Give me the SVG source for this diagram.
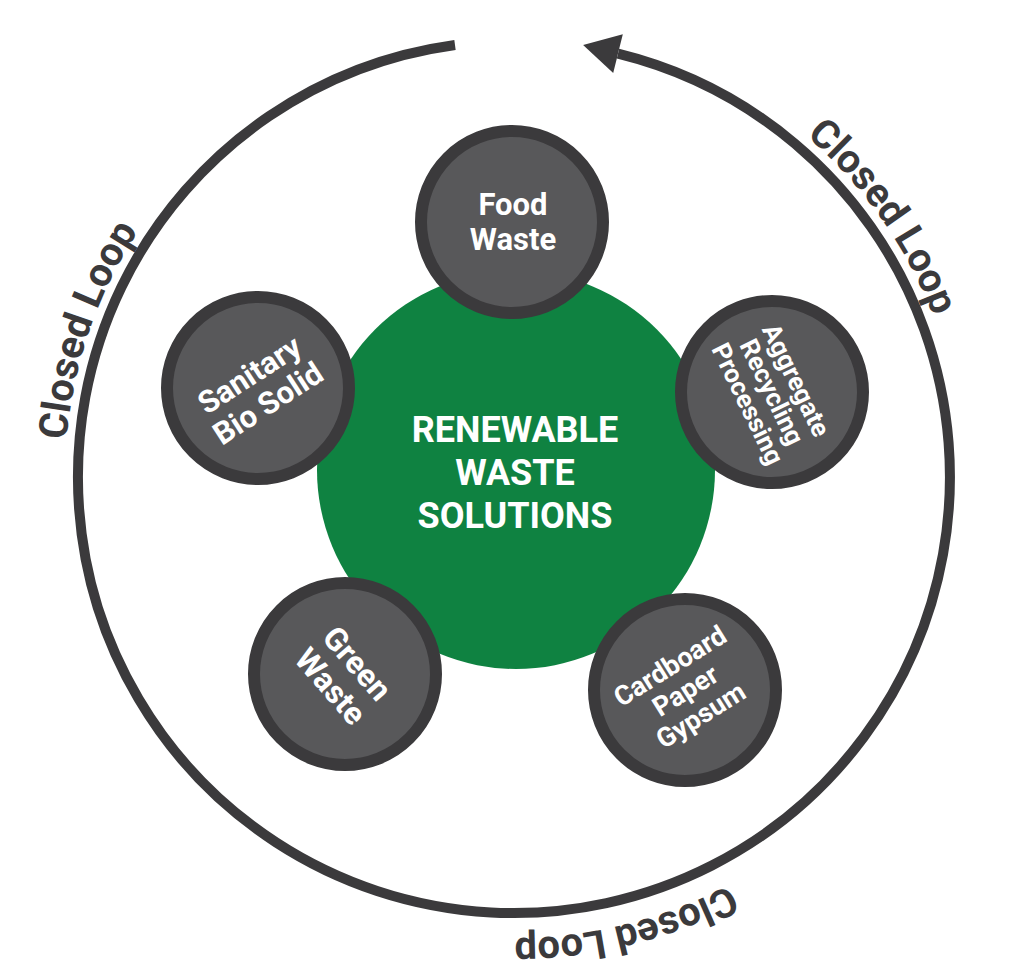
<svg xmlns="http://www.w3.org/2000/svg" xmlns:xlink="http://www.w3.org/1999/xlink" width="1024" height="975" viewBox="0 0 1024 975">
  <style>
    .loop { fill: none; stroke: #3b3a3c; stroke-width: 10; }
    .loopText { font-family: Roboto, "Liberation Sans", sans-serif; font-weight: 700; font-size: 40px; fill: #3b3a3c; }
    .node { fill: #58585a; stroke: #3b3a3c; stroke-width: 12; }
    .nodeText { font-family: Roboto, "Liberation Sans", sans-serif; font-weight: 700; fill: #ffffff; text-anchor: middle; }
    .hub { fill: #0f8241; }
  </style>
  <defs>
    <path id="ringLR" d="M 963 477 A 449 449 0 1 1 65 477 A 449 449 0 1 1 963 477"/>
    <path id="ringB" d="M 975 477 A 461 461 0 1 1 53 477 A 461 461 0 1 1 975 477"/>
  </defs>
  <rect width="1024" height="975" fill="#ffffff"/>

  <g id="connectors">
    <path class="loop" d="M 455 45 A 436 436 0 1 0 618 53.6"/>
    <polygon points="583.1,45 622.8,34.2 613.2,73" fill="#3b3a3c"/>
    <text class="loopText" text-anchor="middle"><textPath xlink:href="#ringLR" startOffset="1559">Closed Loop</textPath></text>
    <text class="loopText" text-anchor="middle"><textPath xlink:href="#ringLR" startOffset="2545">Closed Loop</textPath></text>
    <text class="loopText" text-anchor="middle"><textPath xlink:href="#ringB" startOffset="612">Closed Loop</textPath></text>
  </g>

  <g id="hub">
    <circle class="hub" cx="516" cy="470" r="199"/>
    <text class="nodeText" font-size="36" x="515" y="442">RENEWABLE</text>
    <text class="nodeText" font-size="36" x="515" y="485">WASTE</text>
    <text class="nodeText" font-size="36" x="515" y="528">SOLUTIONS</text>
  </g>

  <g id="food-waste" transform="translate(512,222)">
    <circle class="node" r="91"/>
    <text class="nodeText" font-size="31" x="1" y="-7">Food</text>
    <text class="nodeText" font-size="31" x="1" y="28">Waste</text>
  </g>

  <g id="aggregate" transform="translate(772,392)">
    <circle class="node" r="91"/>
    <g transform="rotate(64)">
      <text class="nodeText" font-size="26" x="0" y="-18">Aggregate</text>
      <text class="nodeText" font-size="26" x="0" y="9">Recycling</text>
      <text class="nodeText" font-size="26" x="0" y="36">Processing</text>
    </g>
  </g>

  <g id="cardboard" transform="translate(685,690)">
    <circle class="node" r="91"/>
    <g transform="rotate(-32)">
      <text class="nodeText" font-size="27" x="0" y="-19">Cardboard</text>
      <text class="nodeText" font-size="27" x="0" y="10">Paper</text>
      <text class="nodeText" font-size="27" x="0" y="39">Gypsum</text>
    </g>
  </g>

  <g id="green-waste" transform="translate(345,674)">
    <circle class="node" r="91"/>
    <g transform="rotate(49)">
      <text class="nodeText" font-size="32" x="0" y="-5">Green</text>
      <text class="nodeText" font-size="32" x="0" y="30">Waste</text>
    </g>
  </g>

  <g id="sanitary" transform="translate(258,388)">
    <circle class="node" r="91"/>
    <g transform="rotate(-33)">
      <text class="nodeText" font-size="31" x="0" y="-5">Sanitary</text>
      <text class="nodeText" font-size="31" x="0" y="29">Bio Solid</text>
    </g>
  </g>
</svg>
